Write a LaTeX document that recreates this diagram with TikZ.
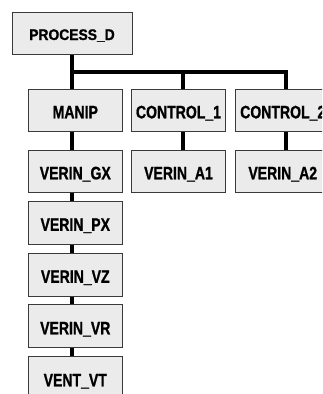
\documentclass[tikz,border=0pt]{standalone}
\usepackage{fontspec}
\usepackage{graphicx}
\setmainfont[BoldFeatures={FakeBold=1.2}]{Liberation Sans}
\usetikzlibrary{backgrounds}
\definecolor{boxfill}{HTML}{EBEBEB}
\definecolor{boxline}{HTML}{3A3A3A}
\newcommand\rlabel[1]{\scalebox{0.78}[1]{\fontsize{18}{20}\selectfont\bfseries #1}}
\newcommand\tlabel[1]{\scalebox{0.9}[1]{\fontsize{15.4}{17}\selectfont\bfseries #1}}
\tikzset{
  box/.style={draw=boxline, line width=1pt, fill=boxfill, rectangle, minimum width=94.5pt, minimum height=42pt, inner sep=0pt, text height=16.6pt, text depth=0pt},
  topbox/.style={box, minimum width=120pt, text height=14pt},
  conn/.style={draw=black, line width=4pt, line join=miter}
}
\begin{document}
\begin{tikzpicture}[x=1pt,y=-1pt]
\useasboundingbox (0,0) rectangle (322,394);
\clip (0,0) rectangle (322,394);
\node[topbox] (proc) at (72,33) {\tlabel{PROCESS\_D}};
\node[box] (manip) at (75.3,110) {\rlabel{MANIP}};
\node[box] (c1) at (178.5,110) {\rlabel{CONTROL\_1}};
\node[box, anchor=west] (c2) at (235,110) {\rlabel{CONTROL\_2}};
\node[box] (gx) at (75.3,171) {\rlabel{VERIN\_GX}};
\node[box] (a1) at (178.5,171) {\rlabel{VERIN\_A1}};
\node[box, anchor=west] (a2) at (235,171) {\rlabel{VERIN\_A2}};
\node[box, minimum height=43pt] (px) at (75.3,222.5) {\rlabel{VERIN\_PX}};
\node[box, minimum height=43pt] (vz) at (75.3,274.5) {\rlabel{VERIN\_VZ}};
\node[box, minimum height=43pt] (vr) at (75.3,326) {\rlabel{VERIN\_VR}};
\node[box, minimum height=43pt] (vt) at (75.3,378) {\rlabel{VENT\_VT}};
\coordinate (j0) at (72,72);
\coordinate (j1) at (183,72);
\coordinate (j2) at (286,72);
\begin{pgfonlayer}{background}
\fill[white] (0,0) rectangle (322,394);
\draw[conn] (proc.south) -- (j0) -- (j2) -- (j2 |- c2.north);
\draw[conn] (j1) -- (j1 |- c1.north);
\draw[conn] (j0) -- (j0 |- manip.north);
\draw[conn] (j0 |- manip.south) -- (j0 |- gx.north);
\draw[conn] (j0 |- gx.south) -- (j0 |- px.north);
\draw[conn] (j0 |- px.south) -- (j0 |- vz.north);
\draw[conn] (j0 |- vz.south) -- (j0 |- vr.north);
\draw[conn] (j0 |- vr.south) -- (j0 |- vt.north);
\draw[conn] (j1 |- c1.south) -- (j1 |- a1.north);
\draw[conn] (j2 |- c2.south) -- (j2 |- a2.north);
\end{pgfonlayer}
\end{tikzpicture}
\end{document}
